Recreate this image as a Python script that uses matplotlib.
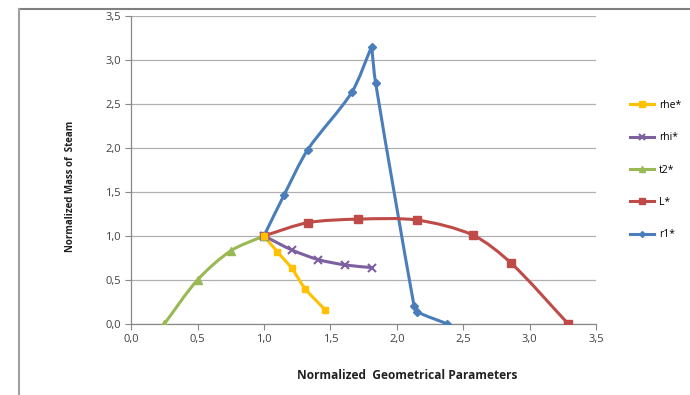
import numpy as np
import matplotlib
matplotlib.use("Agg")
import matplotlib.pyplot as plt
from matplotlib.path import Path
from matplotlib.patches import PathPatch
from matplotlib.lines import Line2D

plt.rcParams['font.family'] = ['Open Sans', 'DejaVu Sans']

# data
r1_x = [1.00, 1.15, 1.33, 1.66, 1.81, 1.84, 2.13, 2.15, 2.38]
r1_y = [1.00, 1.46, 1.98, 2.63, 3.15, 2.74, 0.20, 0.14, 0.00]
L_x = [1.00, 1.33, 1.71, 2.15, 2.57, 2.86, 3.29]
L_y = [1.00, 1.15, 1.19, 1.18, 1.01, 0.69, 0.00]
t2_x = [0.25, 0.50, 0.75, 1.00]
t2_y = [0.00, 0.50, 0.83, 1.00]
rhi_x = [1.00, 1.21, 1.41, 1.61, 1.81]
rhi_y = [1.00, 0.84, 0.73, 0.67, 0.64]
rhe_x = [1.00, 1.10, 1.21, 1.31, 1.46]
rhe_y = [1.00, 0.82, 0.63, 0.40, 0.16]

series = [
    ('r1*', r1_x, r1_y, '#4A7EBB', 'D', 4),
    ('L*', L_x, L_y, '#BE4B48', 's', 6),
    ('t2*', t2_x, t2_y, '#98B954', '^', 6),
    ('rhi*', rhi_x, rhi_y, '#7D60A0', 'x', 6),
    ('rhe*', rhe_x, rhe_y, '#FFC000', 's', 5),
]

ax_rect = [0.19, 0.18, 0.674, 0.78]
fw, fh = 6.9, 3.95
# pixel per data unit, so the smoothing is done in screen space
sx = ax_rect[2] * fw * 100 / 3.5
sy = ax_rect[3] * fh * 100 / 3.5


def unit(v):
    return v / np.hypot(*v)


def smooth_path(xs, ys, k=0.3):
    # smoothed line, tangent from neighbours, handle length from chord;
    # sharp turns (> 90 deg) are kept as corners
    p = np.column_stack([np.array(xs) * sx, np.array(ys) * sy])
    n = len(p)
    t_in, t_out = [], []
    for i in range(n):
        a = p[max(i - 1, 0)]
        b = p[min(i + 1, n - 1)]
        t = unit(b - a)
        if 0 < i < n - 1:
            d1 = unit(p[i] - a)
            d2 = unit(b - p[i])
            if np.dot(d1, d2) < 0:
                t_in.append(d1)
                t_out.append(d2)
                continue
        t_in.append(t)
        t_out.append(t)
    verts = [p[0]]
    codes = [Path.MOVETO]
    for i in range(n - 1):
        L = np.hypot(*(p[i + 1] - p[i]))
        c1 = p[i] + t_out[i] * L * k
        c2 = p[i + 1] - t_in[i + 1] * L * k
        verts += [c1, c2, p[i + 1]]
        codes += [Path.CURVE4] * 3
    verts = np.array(verts) / [sx, sy]
    return Path(verts, codes)


fig = plt.figure(figsize=(fw, fh), dpi=100)
ax = fig.add_axes(ax_rect)

for name, xs, ys, col, mk, ms in series:
    ax.add_patch(PathPatch(smooth_path(xs, ys), facecolor='none',
                           edgecolor=col, lw=2.2, zorder=3,
                           joinstyle='round', capstyle='round'))
    ax.plot(xs, ys, ls='none', marker=mk, color=col, ms=ms,
            mew=1.5 if mk == 'x' else 1, zorder=4)

ticks = np.arange(0, 3.51, 0.5)
ax.set_xlim(0, 3.5)
ax.set_ylim(0, 3.5)
ax.set_xticks(ticks)
ax.set_yticks(ticks)
ax.set_xticklabels([('%.1f' % v).replace('.', ',') for v in ticks])
ax.set_yticklabels([('%.1f' % v).replace('.', ',') for v in ticks])
ax.tick_params(labelsize=8, labelcolor='#404040', color='#888888',
               length=4, width=0.8)
ax.grid(axis='y', color='#B0B0B0', lw=0.9)
ax.set_axisbelow(True)
for s in ['top', 'right']:
    ax.spines[s].set_visible(False)
for s in ['left', 'bottom']:
    ax.spines[s].set_color('#888888')
    ax.spines[s].set_linewidth(0.9)

ax.set_xlabel('Normalized  Geometrical Parameters', fontsize=8.6,
              fontweight='bold', color='#202020')
ax.xaxis.label.set_va('center')
ax.xaxis.set_label_coords(0.594, -0.166)
ax.set_ylabel('Normalized Mass of  Steam', fontsize=7.0,
              fontweight='bold', color='#202020')
ax.yaxis.label.set_va('center')
ax.yaxis.set_label_coords(-0.131, 0.445)

handles = []
labels = []
for name, xs, ys, col, mk, ms in series[::-1]:
    handles.append(Line2D([], [], color=col, lw=2.2, marker=mk, ms=ms - 1,
                          mew=1.5 if mk == 'x' else 1))
    labels.append(name)
fig.legend(handles, labels, loc='upper left', bbox_to_anchor=(0.905, 0.76),
           frameon=False, fontsize=7.5, labelspacing=2.05, handlelength=2.3,
           handletextpad=0.5, borderpad=0)

# outer chart frame (top and left edges only visible)
fig.add_artist(Line2D([0.0275, 1.0], [0.978, 0.978], color='#808080', lw=1.5))
fig.add_artist(Line2D([0.0275, 0.0275], [0.0, 0.978], color='#A0A0A0', lw=1.5))

fig.savefig('out.png', dpi=100)
